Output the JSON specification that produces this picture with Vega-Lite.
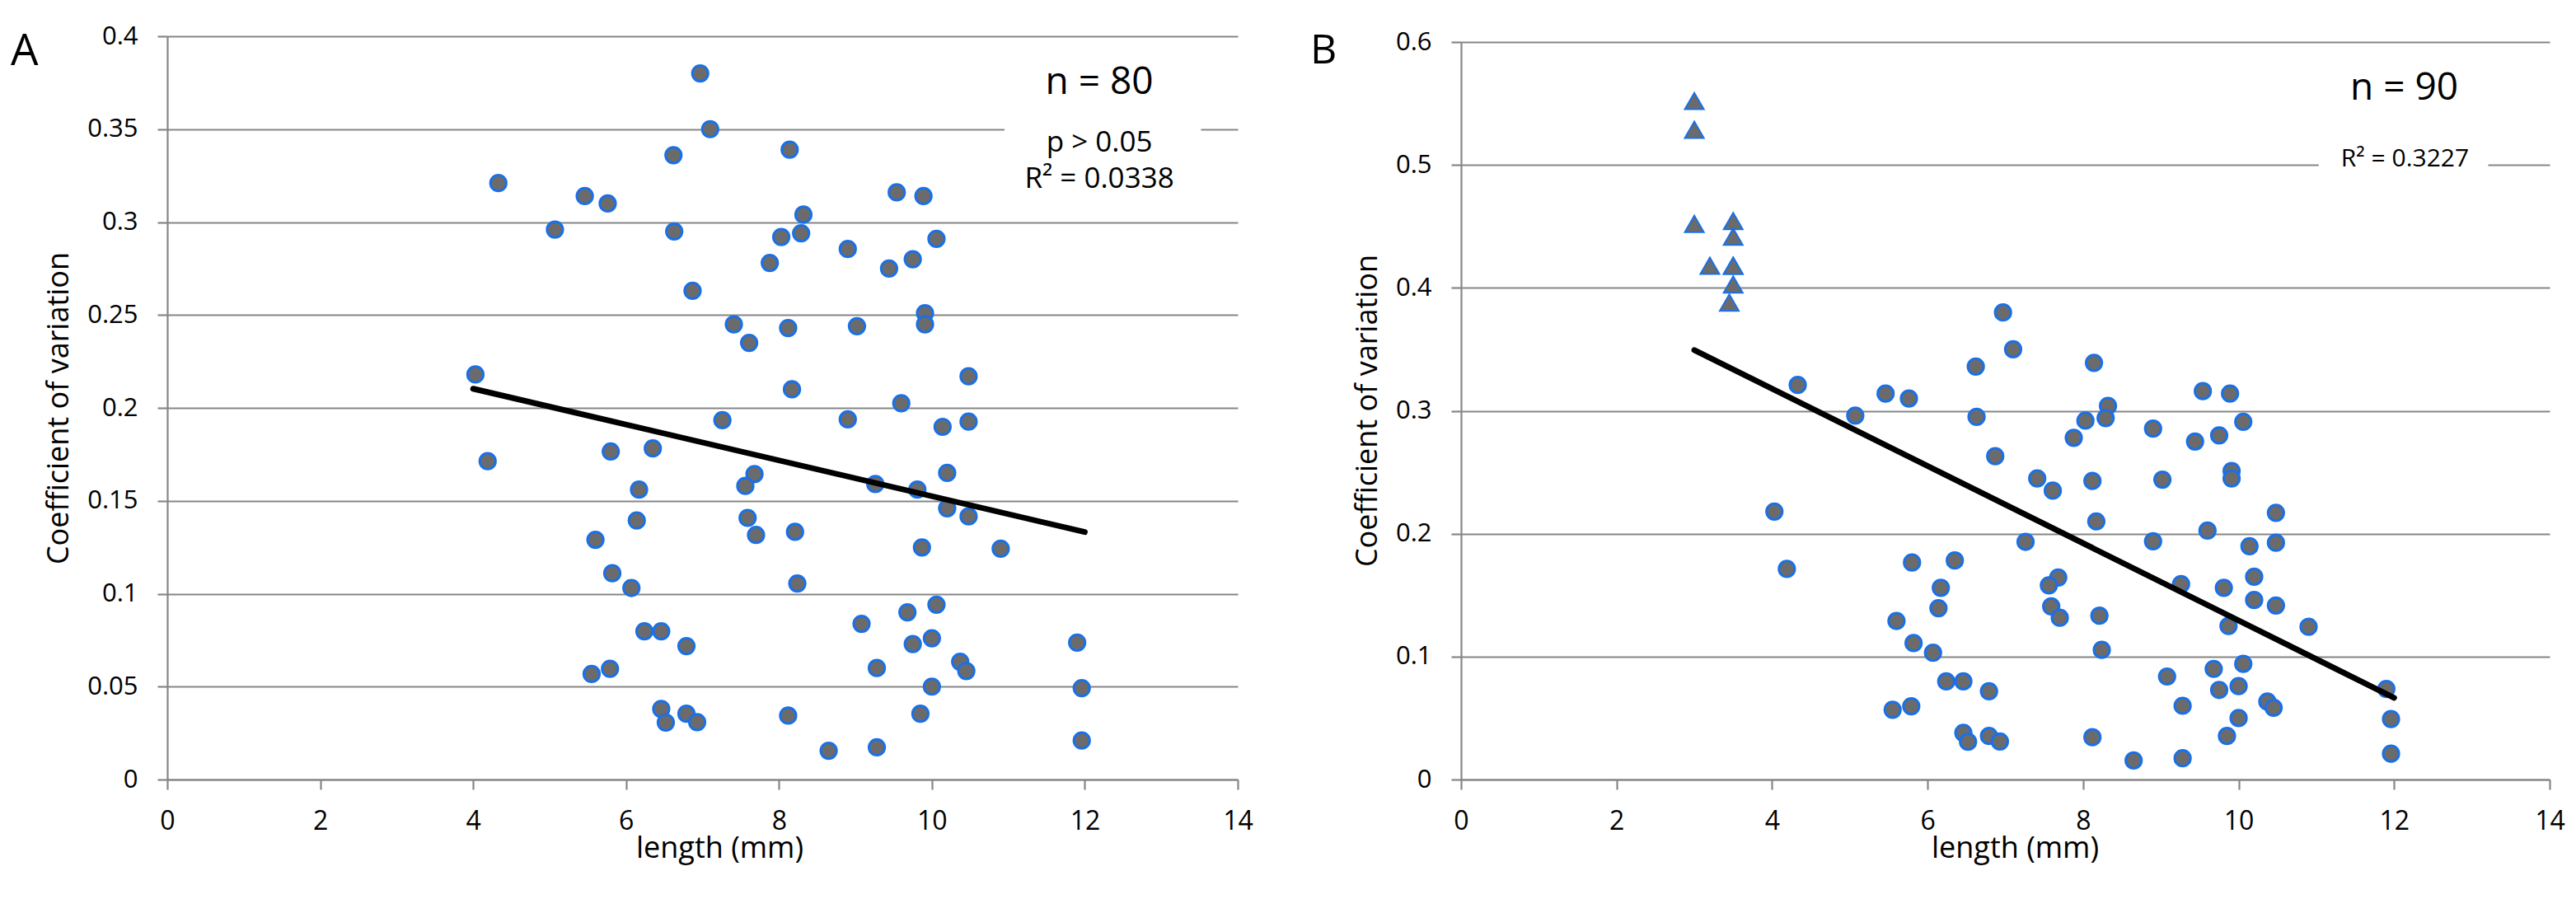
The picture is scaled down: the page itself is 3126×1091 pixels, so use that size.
{
  "$schema": "https://vega.github.io/schema/vega-lite/v6.json",
  "background": "white",
  "padding": {"left": 13, "top": 28, "right": 0, "bottom": 30},
  "spacing": 69,
  "config": {
    "view": {"stroke": null},
    "axis": {
      "labelFont": "Open Sans", "labelFontSize": 31, "labelColor": "#000000",
      "labelFlush": false, "labelOverlap": false,
      "titleFont": "Open Sans", "titleFontSize": 36, "titleFontWeight": "normal", "titleColor": "#000000",
      "domainColor": "#868686", "domainWidth": 2.2,
      "tickColor": "#868686", "tickWidth": 2.2, "tickSize": 12,
      "gridColor": "#868686", "gridWidth": 2.2
    },
    "axisX": {"grid": false, "labelFontSize": 32, "labelPadding": 48, "labelBaseline": "alphabetic", "titleBaseline": "alphabetic", "titleY": 94},
    "axisY": {"grid": true, "labelPadding": 24, "titleBaseline": "alphabetic"},
    "title": {"font": "Open Sans", "fontWeight": "normal", "color": "#000000", "anchor": "start", "frame": "group", "baseline": "alphabetic", "offset": 0}
  },
  "datasets": {
    "circles": [
      {"length": 4.33, "cv": 0.321}, {"length": 5.07, "cv": 0.296}, {"length": 5.46, "cv": 0.314}, {"length": 5.76, "cv": 0.310},
      {"length": 4.03, "cv": 0.218}, {"length": 6.97, "cv": 0.380}, {"length": 7.10, "cv": 0.350}, {"length": 6.62, "cv": 0.336},
      {"length": 8.14, "cv": 0.339}, {"length": 9.54, "cv": 0.316}, {"length": 9.89, "cv": 0.314}, {"length": 8.32, "cv": 0.304},
      {"length": 6.63, "cv": 0.295}, {"length": 8.03, "cv": 0.292}, {"length": 8.29, "cv": 0.294}, {"length": 10.06, "cv": 0.291},
      {"length": 8.90, "cv": 0.2855}, {"length": 9.75, "cv": 0.280}, {"length": 7.88, "cv": 0.278}, {"length": 9.44, "cv": 0.275},
      {"length": 6.87, "cv": 0.263}, {"length": 9.91, "cv": 0.251}, {"length": 7.41, "cv": 0.245}, {"length": 8.12, "cv": 0.243},
      {"length": 9.02, "cv": 0.244}, {"length": 9.91, "cv": 0.245}, {"length": 7.61, "cv": 0.235}, {"length": 8.17, "cv": 0.210},
      {"length": 10.48, "cv": 0.217}, {"length": 9.60, "cv": 0.2025}, {"length": 7.26, "cv": 0.1934}, {"length": 8.90, "cv": 0.1938},
      {"length": 10.14, "cv": 0.1898}, {"length": 10.48, "cv": 0.1926}, {"length": 5.80, "cv": 0.1765}, {"length": 6.35, "cv": 0.1782},
      {"length": 7.68, "cv": 0.1644}, {"length": 7.56, "cv": 0.158}, {"length": 10.20, "cv": 0.165}, {"length": 6.17, "cv": 0.156},
      {"length": 9.26, "cv": 0.159}, {"length": 9.81, "cv": 0.156}, {"length": 10.20, "cv": 0.146}, {"length": 10.48, "cv": 0.1416},
      {"length": 6.14, "cv": 0.1394}, {"length": 7.59, "cv": 0.1408}, {"length": 7.70, "cv": 0.1316}, {"length": 8.21, "cv": 0.1333},
      {"length": 5.60, "cv": 0.129}, {"length": 9.87, "cv": 0.1249}, {"length": 10.90, "cv": 0.1242}, {"length": 5.82, "cv": 0.111},
      {"length": 6.07, "cv": 0.1031}, {"length": 8.24, "cv": 0.1055}, {"length": 10.06, "cv": 0.0941}, {"length": 9.68, "cv": 0.090},
      {"length": 9.08, "cv": 0.0838}, {"length": 6.24, "cv": 0.0798}, {"length": 6.46, "cv": 0.0798}, {"length": 6.79, "cv": 0.0718},
      {"length": 10.00, "cv": 0.076}, {"length": 9.75, "cv": 0.0729}, {"length": 11.90, "cv": 0.0737}, {"length": 10.37, "cv": 0.0634},
      {"length": 10.45, "cv": 0.0584}, {"length": 5.55, "cv": 0.0568}, {"length": 5.79, "cv": 0.0596}, {"length": 9.28, "cv": 0.060},
      {"length": 10.00, "cv": 0.050}, {"length": 11.96, "cv": 0.0492}, {"length": 6.46, "cv": 0.038}, {"length": 6.79, "cv": 0.0354},
      {"length": 6.52, "cv": 0.0307}, {"length": 6.93, "cv": 0.0309}, {"length": 8.12, "cv": 0.0344}, {"length": 9.85, "cv": 0.0354},
      {"length": 8.65, "cv": 0.0155}, {"length": 9.28, "cv": 0.0173}, {"length": 11.96, "cv": 0.021}, {"length": 4.19, "cv": 0.1713}
    ],
    "triangles": [
      {"length": 3.0, "cv": 0.552}, {"length": 3.0, "cv": 0.5286}, {"length": 3.0, "cv": 0.452}, {"length": 3.2, "cv": 0.418},
      {"length": 3.5, "cv": 0.4544}, {"length": 3.5, "cv": 0.4416}, {"length": 3.5, "cv": 0.418}, {"length": 3.5, "cv": 0.4027},
      {"length": 3.45, "cv": 0.388}, {"length": 3.5, "cv": 0.418}
    ],
    "fitA": [{"length": 4.0, "cv": 0.2103}, {"length": 12.0, "cv": 0.1332}],
    "fitB": [{"length": 3.0, "cv": 0.3494}, {"length": 12.0, "cv": 0.0665}],
    "notes": [
      {"label": "n = 80", "length": 12.19, "cv": 0.369},
      {"label": "p > 0.05", "length": 12.19, "cv": 0.338},
      {"label": "R² = 0.0338", "length": 12.19, "cv": 0.3184},
      {"label": "n = 90", "length": 12.13, "cv": 0.553},
      {"label": "R² = 0.3227", "length": 12.14, "cv": 0.4988}
    ]
  },
  "hconcat": [
    {
      "title": {"text": "A", "fontSize": 53, "dx": -190, "dy": 66},
      "width": 1299,
      "height": 902,
      "encoding": {
        "x": {
          "field": "length", "type": "quantitative",
          "scale": {"domain": [0, 14], "nice": false},
          "axis": {"title": "length (mm)", "values": [0, 2, 4, 6, 8, 10, 12, 14], "format": "d", "titleX": 670}
        },
        "y": {
          "field": "cv", "type": "quantitative",
          "scale": {"domain": [0, 0.4], "nice": false},
          "axis": {"title": "Coefficient of variation", "values": [0, 0.05, 0.1, 0.15, 0.2, 0.25, 0.3, 0.35, 0.4], "format": "~g", "titleX": -121, "titleY": 451}
        }
      },
      "layer": [
        {
          "data": {"name": "notes"},
          "transform": [{"filter": "datum.label == 'n = 80'"}],
          "mark": {"type": "rect", "color": "white"},
          "encoding": {"x": {"datum": 10.95}, "x2": {"datum": 13.52}, "y": {"datum": 0.31}, "y2": {"datum": 0.36}}
        },
        {
          "data": {"name": "circles"},
          "mark": {"type": "point", "shape": "circle", "filled": true, "fill": "#6b6b6b", "stroke": "#1a70e6", "strokeWidth": 3, "size": 370, "opacity": 1}
        },
        {
          "data": {"name": "fitA"},
          "mark": {"type": "line", "color": "black", "strokeWidth": 7, "strokeCap": "round"}
        },
        {
          "data": {"name": "notes"},
          "transform": [{"filter": "datum.label == 'n = 80'"}],
          "mark": {"type": "text", "font": "Open Sans", "fontSize": 46, "align": "center", "baseline": "alphabetic", "color": "black"},
          "encoding": {"text": {"field": "label"}}
        },
        {
          "data": {"name": "notes"},
          "transform": [{"filter": "datum.label == 'p > 0.05' || datum.label == 'R² = 0.0338'"}],
          "mark": {"type": "text", "font": "Open Sans", "fontSize": 35, "align": "center", "baseline": "alphabetic", "color": "black"},
          "encoding": {"text": {"field": "label"}}
        }
      ]
    },
    {
      "title": {"text": "B", "fontSize": 50, "dx": -183, "dy": 56},
      "width": 1321,
      "height": 902,
      "encoding": {
        "x": {
          "field": "length", "type": "quantitative",
          "scale": {"domain": [0, 14], "nice": false},
          "axis": {"title": "length (mm)", "values": [0, 2, 4, 6, 8, 10, 12, 14], "format": "d", "titleX": 672}
        },
        "y": {
          "field": "cv", "type": "quantitative",
          "scale": {"domain": [0, 0.6], "nice": false, "range": [902, 7]},
          "axis": {"title": "Coefficient of variation", "values": [0, 0.1, 0.2, 0.3, 0.4, 0.5, 0.6], "format": "~g", "titleX": -103, "titleY": 454}
        }
      },
      "layer": [
        {
          "data": {"name": "notes"},
          "transform": [{"filter": "datum.label == 'n = 90'"}],
          "mark": {"type": "rect", "color": "white"},
          "encoding": {"x": {"datum": 11.03}, "x2": {"datum": 13.21}, "y": {"datum": 0.485}, "y2": {"datum": 0.515}}
        },
        {
          "data": {"name": "circles"},
          "mark": {"type": "point", "shape": "circle", "filled": true, "fill": "#6b6b6b", "stroke": "#1a70e6", "strokeWidth": 3, "size": 370, "opacity": 1}
        },
        {
          "data": {"name": "triangles"},
          "mark": {"type": "point", "shape": "triangle-up", "filled": true, "fill": "#6b6b6b", "stroke": "#1a70e6", "strokeWidth": 2, "size": 530, "opacity": 1}
        },
        {
          "data": {"name": "fitB"},
          "mark": {"type": "line", "color": "black", "strokeWidth": 7, "strokeCap": "round"}
        },
        {
          "data": {"name": "notes"},
          "transform": [{"filter": "datum.label == 'n = 90'"}],
          "mark": {"type": "text", "font": "Open Sans", "fontSize": 46, "align": "center", "baseline": "alphabetic", "color": "black"},
          "encoding": {"text": {"field": "label"}}
        },
        {
          "data": {"name": "notes"},
          "transform": [{"filter": "datum.label == 'R² = 0.3227'"}],
          "mark": {"type": "text", "font": "Open Sans", "fontSize": 30, "align": "center", "baseline": "alphabetic", "color": "black"},
          "encoding": {"text": {"field": "label"}}
        }
      ]
    }
  ]
}
